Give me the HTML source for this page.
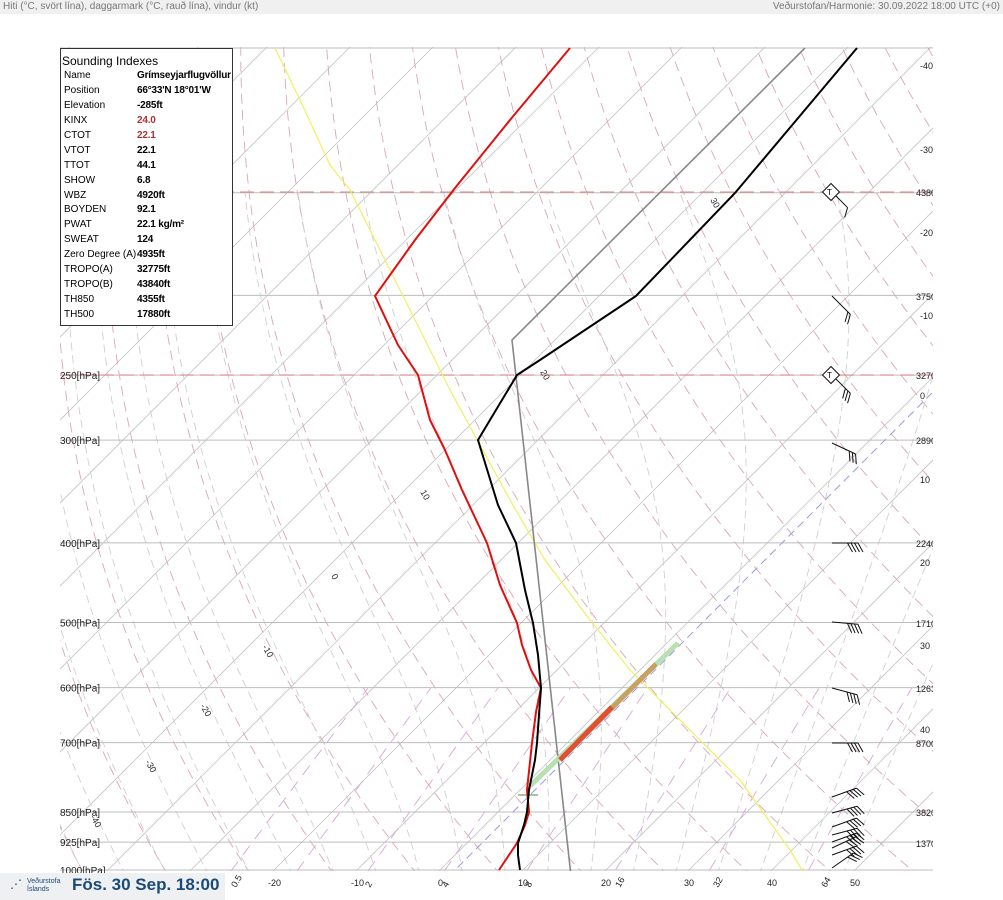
<!DOCTYPE html>
<html><head><meta charset="utf-8"><style>
body{margin:0;width:1003px;height:900px;overflow:hidden;background:#fff;font-family:"Liberation Sans",sans-serif}
#hdr{position:absolute;left:0;top:0;width:1003px;height:14px;background:#f0f0f0;font-size:10px;color:#777;line-height:13px}
#box{position:absolute;left:60px;top:48px;width:173px;height:278px;border:1px solid #333;background:#fff;font-size:10px;white-space:nowrap;box-sizing:border-box}
#box .t{font-size:12px;padding-left:1px;line-height:16px;margin-top:4px}
#box table{border-collapse:collapse;margin-left:3px}
#box td{padding:0;height:14.9px;line-height:14px}
#box td:first-child{width:73px}
#box td:last-child{font-weight:bold;letter-spacing:-0.2px}
</style></head><body>
<div id="hdr"><span style="position:absolute;left:3px">Hiti (°C, svört lína), daggarmark (°C, rauð lína), vindur (kt)</span><span style="position:absolute;right:3px">Veðurstofan/Harmonie: 30.09.2022 18:00 UTC (+0)</span></div>
<svg id="s" width="1003" height="900" style="position:absolute;left:0;top:0">
<defs><clipPath id="c"><rect x="60" y="47" width="873" height="824"/></clipPath></defs>
<g id="bg" clip-path="url(#c)"></g>
<g id="fg" clip-path="url(#c)"></g>
</svg>
<div id="box"><div class="t">Sounding Indexes</div><table>
<tr><td>Name</td><td>Grímseyjarflugvöllur</td></tr>
<tr><td>Position</td><td>66°33'N 18°01'W</td></tr>
<tr><td>Elevation</td><td>-285ft</td></tr>
<tr><td>KINX</td><td style="color:#a33">24.0</td></tr>
<tr><td>CTOT</td><td style="color:#a33">22.1</td></tr>
<tr><td>VTOT</td><td>22.1</td></tr>
<tr><td>TTOT</td><td>44.1</td></tr>
<tr><td>SHOW</td><td>6.8</td></tr>
<tr><td>WBZ</td><td>4920ft</td></tr>
<tr><td>BOYDEN</td><td>92.1</td></tr>
<tr><td>PWAT</td><td>22.1 kg/m²</td></tr>
<tr><td>SWEAT</td><td>124</td></tr>
<tr><td>Zero Degree (A)</td><td>4935ft</td></tr>
<tr><td>TROPO(A)</td><td>32775ft</td></tr>
<tr><td>TROPO(B)</td><td>43840ft</td></tr>
<tr><td>TH850</td><td>4355ft</td></tr>
<tr><td>TH500</td><td>17880ft</td></tr>
</table></div>
<div style="position:absolute;left:0;top:873px;width:225px;height:27px;background:#eef0f2"></div>
<div style="position:absolute;left:10px;top:878px;font-size:7px;color:#1a4a7a;line-height:8px"><span style="font-size:12px;position:absolute;left:0;top:2px">⋰</span><span style="position:absolute;left:17px;top:0;white-space:nowrap">Veðurstofa<br>Íslands</span></div>
<div style="position:absolute;left:72px;top:875px;font-size:17px;font-weight:bold;color:#1a4a7a;white-space:nowrap">Fös. 30 Sep. 18:00</div>
<script>
const NS="http://www.w3.org/2000/svg";
const bg=document.getElementById('bg'),fg=document.getElementById('fg'),S=document.getElementById('s');
function el(p,t,a,txt){const e=document.createElementNS(NS,t);for(const k in a)e.setAttribute(k,a[k]);if(txt!==undefined)e.textContent=txt;p.appendChild(e);return e;}
const Y=p=>870-357*Math.log(1000/p);
const X=(T,y)=>440+8.3*T+(870-y);
function poly(g,pts,st){el(g,'polyline',Object.assign({points:pts.map(q=>q[0].toFixed(1)+','+q[1].toFixed(1)).join(' '),fill:'none'},st));}
const ps=[];for(let p=1050;p>=85;p-=5)ps.push(p);
for(let T=-120;T<=60;T+=10){poly(bg,[[X(T,900),900],[X(T,0),0]],{stroke:'#c4c4c4','stroke-width':0.8});}
for(let th=190;th<=480;th+=10){const pts=ps.map(p=>{const T=th*Math.pow(p/1000,0.286)-273.15;const y=Y(p);return[X(T,y),y]});poly(bg,pts,{stroke:'#dca6b6','stroke-width':0.9,'stroke-dasharray':'10,6'});}
function es(T){return 6.112*Math.exp(17.67*T/(T+243.5));}
for(let T0=-40;T0<=50;T0+=5){let T=T0+273.15;const pts=[];for(let p=1050;p>=150;p-=5){const y=Y(p);pts.push([X(T-273.15,y),y]);const rs=0.622*es(T-273.15)/(p-es(T-273.15));const dTdp=(287*T+2.5e6*rs)/(1004+2.5e6*2.5e6*rs*0.622/(287*T*T))/p;T-=dTdp*5;}
 poly(bg,pts,{stroke:'#d0d0d0','stroke-width':0.9,'stroke-dasharray':'8,5'});}
for(const w of [0.5,1,2,4,8,16,32,64]){const pts=[];for(let p=1050;p>=600;p-=10){const e=w*p/(622+w);const l=Math.log(e/6.112);const Td=243.5*l/(17.67-l);const y=Y(p);pts.push([X(Td,y),y]);}poly(bg,pts,{stroke:'#d9a8d9','stroke-width':0.9,'stroke-dasharray':'12,8'});}
for(const p of [1000,925,850,700,600,500,400,300,250,200,150,100]){const y=Y(p);el(bg,'line',{x1:0,x2:933,y1:y,y2:y,stroke:'#bdbdbd','stroke-width':1});}
el(bg,'line',{x1:0,x2:933,y1:48,y2:48,stroke:'#bdbdbd','stroke-width':1});
for(const y of [192,375])el(bg,'line',{x1:0,x2:933,y1:y,y2:y,stroke:'#e08080','stroke-width':1,'stroke-dasharray':'14,6'});
el(fg,'line',{x1:430,y1:895,x2:940,y2:385,stroke:'#9a9ae0','stroke-width':1,'stroke-dasharray':'8,5'});
poly(fg,[[275,48],[300,100],[330,165],[350,190],[370,230],[390,270],[420,330],[450,390],[480,445],[510,500],[545,560],[590,620],[630,670],[680,720],[740,780],[790,850],[805,875]],{stroke:'#f0f060','stroke-width':1.2});
poly(fg,[[572,885],[512,340],[805,48]],{stroke:'#888','stroke-width':1.6});
el(fg,'line',{x1:530,y1:786,x2:678,y2:643,stroke:'#b8e0b0','stroke-width':5});
el(fg,'line',{x1:560,y1:760,x2:656,y2:664,stroke:'#c8a060','stroke-width':5});
el(fg,'line',{x1:560,y1:760,x2:612,y2:707,stroke:'#e05030','stroke-width':5});
el(fg,'line',{x1:518,y1:795,x2:538,y2:795,stroke:'#4a8a4a','stroke-width':1});
el(fg,'line',{x1:528,y1:788,x2:528,y2:802,stroke:'#4a8a4a','stroke-width':1});
poly(fg,[[499,870],[509,855],[517,843],[525,825],[529,812],[527,790],[532,743],[536,712],[541,688],[531,670],[522,645],[517,623],[500,585],[487,543],[462,490],[445,450],[440,440],[430,420],[418,375],[398,345],[375,296],[415,240],[455,188],[510,120],[570,48]],{stroke:'#e01010','stroke-width':2});
poly(fg,[[520,870],[518,855],[518,843],[524,825],[527,812],[529,790],[535,760],[537,743],[539,715],[541,688],[538,655],[533,623],[525,590],[516,543],[498,505],[478,440],[517,375],[540,360],[636,296],[735,193],[857,48]],{stroke:'#000','stroke-width':2});
const ml=[["30",710,200],["20",540,372],["10",420,492],["0",331,576],["-10",262,647],["-20",200,706],["-30",145,762],["-40",90,817],["-50",122,874]];
for(const[t,x,y]of ml)el(fg,'text',{x:x,y:y,'font-size':9,fill:'#333',transform:`rotate(60 ${x} ${y})`},t);
const pl=[[250,'250[hPa]'],[300,'300[hPa]'],[400,'400[hPa]'],[500,'500[hPa]'],[600,'600[hPa]'],[700,'700[hPa]'],[850,'850[hPa]'],[925,'925[hPa]'],[1000,'1000[hPa]']];
for(const[p,t]of pl)el(S,'text',{x:60,y:Y(p)+4,'font-size':10,fill:'#222'},t);
const rl=[[192,'4380'],[296,'37500'],[375,'32700'],[440,'28900'],[543,'22400'],[623,'17100'],[688,'12630'],[743,'8700'],[812,'3820'],[843,'1370']];
for(const[y,t]of rl)el(fg,'text',{x:916,y:y+4,'font-size':9,fill:'#222'},t);
const il=[[65,'-40'],[149,'-30'],[232,'-20'],[315,'-10'],[395,'0'],[479,'10'],[562,'20'],[645,'30'],[729,'40']];
for(const[y,t]of il)el(fg,'text',{x:920,y:y+4,'font-size':9,fill:'#222'},t);
for(const[x,t]of [[268,'-20'],[351,'-10'],[438,'0'],[518,'10'],[601,'20'],[684,'30'],[767,'40'],[850,'50']])el(S,'text',{x:x,y:886,'font-size':9,fill:'#222'},t);
for(const[x,t]of [[236,'0.5'],[370,'2'],[447,'4'],[530,'8'],[620,'16'],[718,'32'],[826,'64']])el(S,'text',{x:x,y:888,'font-size':9,fill:'#222',transform:`rotate(-60 ${x} ${888})`},t);
// wind barbs: origin, staff angle (deg, y down), feather count
function barb(x,y,a,n,L){L=L||26;const g=el(fg,'g',{transform:`translate(${x},${y}) rotate(${a})`,stroke:'#111','stroke-width':1,fill:'none'});el(g,'line',{x1:0,y1:0,x2:L,y2:0});for(let i=0;i<n;i++){const sx=L-i*3.5;el(g,'line',{x1:sx,y1:0,x2:sx+5,y2:9});}}
const wb=[[832,192,45,1,22],[832,296,45,2],[832,375,45,3],[832,443,25,3],[832,543,0,4],[832,622,5,4],[832,688,15,4],[832,743,0,4],[832,797,-20,4],[832,813,-15,4],[832,827,-20,4],[832,835,-15,4],[832,842,-20,4],[832,848,-25,4],[832,855,-20,4],[832,868,-35,3]];
for(const[x,y,a,n,L]of wb)barb(x,y,a,n,L);
for(const y of [192,375]){el(fg,'rect',{x:-6,y:-6,width:12,height:12,transform:`translate(831,${y}) rotate(45)`,fill:'#fff',stroke:'#111'});el(fg,'text',{x:827,y:y+3,'font-size':8},'T');}
</script>
</body></html>
